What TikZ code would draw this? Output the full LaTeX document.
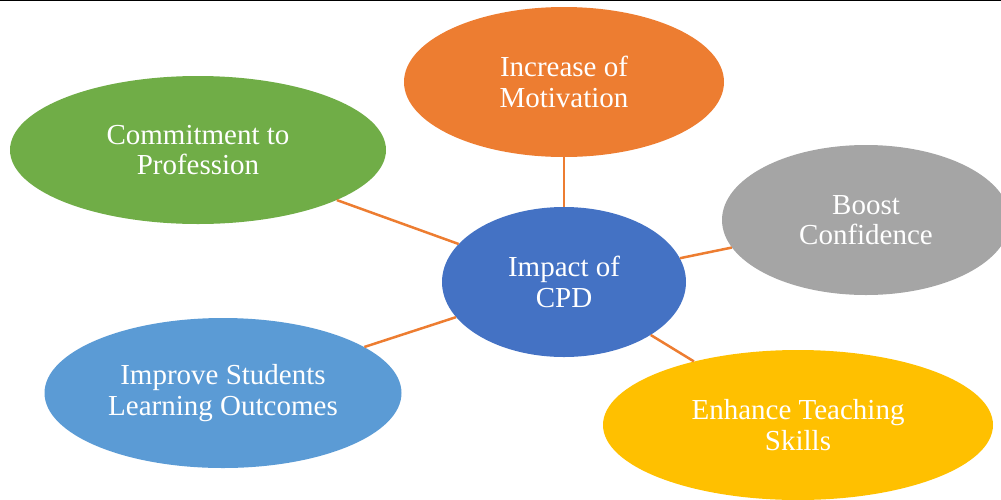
\documentclass[tikz,border=0pt]{standalone}
\usepackage{fontspec}
\setmainfont{Liberation Serif}
\usepackage{tikz}
\usetikzlibrary{shapes.geometric}

\definecolor{accorange}{HTML}{ED7D31}
\definecolor{accgreen}{HTML}{70AD47}
\definecolor{accgray}{HTML}{A5A5A5}
\definecolor{accblue}{HTML}{4472C4}
\definecolor{acclight}{HTML}{5B9BD5}
\definecolor{accyellow}{HTML}{FFC000}

\begin{document}
\begin{tikzpicture}[x=1pt,y=-1pt,
		bubble/.style={ellipse, inner sep=0pt, minimum height=150pt, align=center,
			text=white, font=\fontsize{29}{30.5}\selectfont},
		link/.style={draw=accorange, line width=2.5pt}]
	\clip (0,0) rectangle (1001,499);
	\draw[line width=1.5pt] (0,0.5) -- (1001,0.5);
	% centre
	\node[bubble, fill=accblue, minimum width=244pt] (impact) at (564,282) {Impact of\\CPD};
	% outer bubbles
	\node[bubble, fill=accorange, minimum width=320pt] (motivation) at (564,82) {Increase of\\Motivation};
	\node[bubble, fill=accgreen, minimum width=376pt, minimum height=148pt] (commitment) at (198,150) {Commitment to\\Profession};
	\node[bubble, fill=accgray, minimum width=288pt] (confidence) at (866,220) {Boost\\Confidence};
	\node[bubble, fill=acclight, minimum width=357pt] (outcomes) at (223,393) {Improve Students\\Learning Outcomes};
	\node[bubble, fill=accyellow, minimum width=390pt] (teaching) at (798,425) {Enhance Teaching\\Skills};
	% connectors
	\draw[link] (impact) -- (motivation);
	\draw[link] (impact) -- (commitment);
	\draw[link] (impact) -- (confidence);
	\draw[link] (impact) -- (outcomes);
	\draw[link] (impact) -- (teaching);
\end{tikzpicture}
\end{document}
